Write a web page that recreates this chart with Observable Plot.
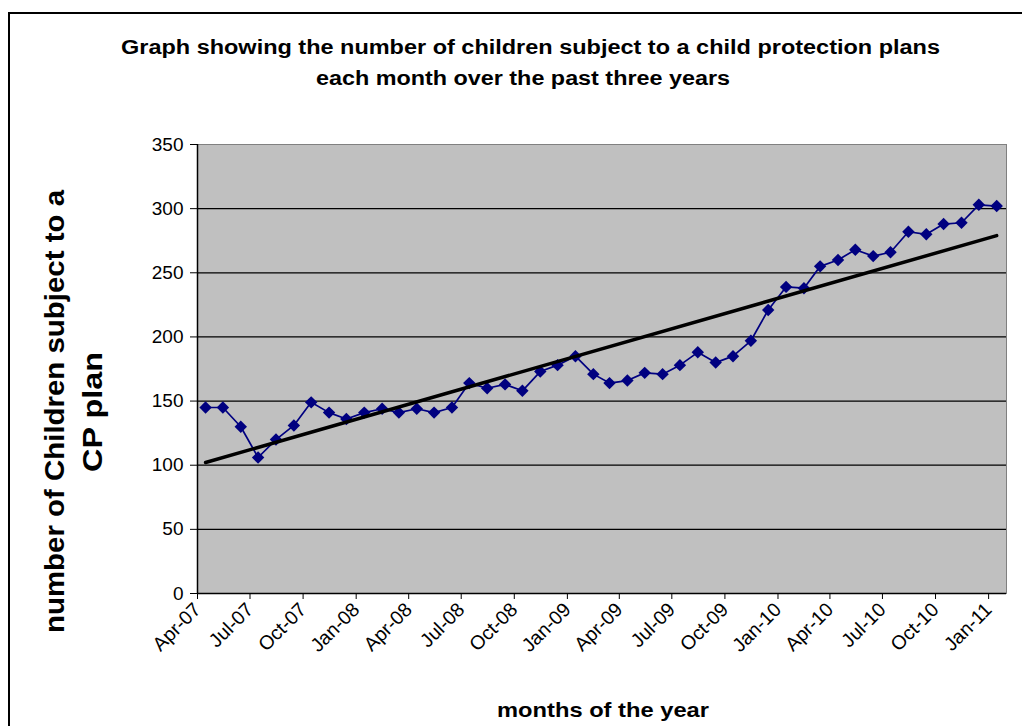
<!DOCTYPE html>
<html>
<head>
<meta charset="utf-8">
<script src="https://cdn.jsdelivr.net/npm/d3@7"></script>
<script src="https://cdn.jsdelivr.net/npm/@observablehq/plot@0.6"></script>
<style>
html, body { margin: 0; padding: 0; background: #fff; overflow: hidden; }
#wrap { position: relative; width: 1022px; height: 726px; overflow: hidden; background: #fff; }
#chart { position: absolute; left: 0; top: 0; }
#border { position: absolute; left: 8px; top: 12px; width: 1100px; height: 800px;
  border-left: 2px solid #000; border-top: 2px solid #000; pointer-events: none; }
</style>
</head>
<body>
<div id="wrap"><div id="chart"></div><div id="border"></div></div>
<script>
// ---- data ----
const monthDates = [
  "2007-04-15","2007-05-15","2007-06-15","2007-07-15","2007-08-15","2007-09-15",
  "2007-10-15","2007-11-15","2007-12-15","2008-01-15","2008-02-15","2008-03-15",
  "2008-04-15","2008-05-15","2008-06-15","2008-07-15","2008-08-15","2008-09-15",
  "2008-10-15","2008-11-15","2008-12-15","2009-01-15","2009-02-15","2009-03-15",
  "2009-04-15","2009-05-15","2009-06-15","2009-07-15","2009-08-15","2009-09-15",
  "2009-10-15","2009-11-15","2009-12-15","2010-01-15","2010-02-15","2010-03-15",
  "2010-04-15","2010-05-15","2010-06-15","2010-07-15","2010-08-15","2010-09-15",
  "2010-10-15","2010-11-15","2010-12-15","2011-01-15"
];
const childCounts = [
  145, 145, 130, 106, 120, 131,
  149, 141, 136, 141, 144, 141,
  144, 141, 145, 164, 160, 163,
  158, 173, 178, 185, 171, 164,
  166, 172, 171, 178, 188, 180,
  185, 197, 221, 239, 238, 255,
  260, 268, 263, 266, 282, 280,
  288, 289, 303, 302
];
const xTickDates = [
  "2007-04-01","2007-07-01","2007-10-01","2008-01-01","2008-04-01","2008-07-01",
  "2008-10-01","2009-01-01","2009-04-01","2009-07-01","2009-10-01","2010-01-01",
  "2010-04-01","2010-07-01","2010-10-01","2011-01-01"
];
const xTickLabels = [
  "Apr-07","Jul-07","Oct-07","Jan-08","Apr-08","Jul-08",
  "Oct-08","Jan-09","Apr-09","Jul-09","Oct-09","Jan-10",
  "Apr-10","Jul-10","Oct-10","Jan-11"
];
const xDomain = ["2007-04-01", "2011-02-01"];
const yTickValues = [0, 50, 100, 150, 200, 250, 300, 350];
const titleLines = [
  "Graph showing the number of children subject to a child protection plans",
  "each month over the past three years"
];
const yTitleLines = ["number of Children subject to a", "CP plan"];
const xTitle = "months of the year";

// ---- build ----
const FONT = "'Liberation Sans', Arial, Helvetica, sans-serif";
const data = monthDates.map((d, i) => ({date: new Date(d), count: childCounts[i]}));
const tickDates = xTickDates.map(d => new Date(d));
const labelByTime = new Map(tickDates.map((d, i) => [+d, xTickLabels[i]]));

const svg = Plot.plot({
  width: 1022,
  height: 726,
  marginLeft: 197,
  marginRight: 16,
  marginTop: 144,
  marginBottom: 133,
  style: {fontFamily: FONT, fontSize: "18px", background: "white", color: "black"},
  x: {type: "utc", domain: xDomain.map(d => new Date(d))},
  y: {domain: [0, 350]},
  marks: [
    Plot.frame({fill: "#C0C0C0", stroke: "#808080"}),
    Plot.gridY(yTickValues.filter(v => v > 0 && v < 350), {stroke: "black", strokeOpacity: 1, strokeWidth: 1.2}),
    Plot.axisY({ticks: yTickValues, tickSize: 7, tickPadding: 7, label: null, fontSize: 19, stroke: "black"}),
    Plot.axisX({ticks: tickDates, tickFormat: d => labelByTime.get(+d), tickRotate: -45,
      tickSize: 6, tickPadding: 7, label: null, fontSize: 19.5, stroke: "black"}),
    Plot.ruleX([new Date(xDomain[0])], {stroke: "black", strokeWidth: 1.5}),
    Plot.ruleY([0], {stroke: "black", strokeWidth: 1.5}),
    Plot.line(data, {x: "date", y: "count", stroke: "#000080", strokeWidth: 1.7}),
    Plot.dot(data, {x: "date", y: "count", symbol: "diamond2", r: 5.6, fill: "#000080", stroke: "none"}),
    Plot.linearRegressionY(data, {x: "date", y: "count", stroke: "black", strokeWidth: 3.5, ci: 0})
  ]
});
document.getElementById("chart").appendChild(svg);

// ---- text (titles) ----
const g = d3.select(svg).append("g")
  .attr("font-family", FONT).attr("font-weight", "bold").attr("fill", "black");
function addText(str, tx, ty, size, len, rot) {
  g.append("text")
    .attr("transform", `translate(${tx},${ty})` + (rot ? ` rotate(${rot})` : ""))
    .attr("text-anchor", "start")
    .attr("font-size", size)
    .attr("textLength", len)
    .attr("lengthAdjust", "spacingAndGlyphs")
    .text(str);
}
addText(titleLines[0], 121, 54, 20, 819, 0);
addText(titleLines[1], 316, 85, 20, 414, 0);
addText(xTitle, 497, 717, 21, 212, 0);
addText(yTitleLines[0], 64, 633, 27, 443, -90);
addText(yTitleLines[1], 102, 472, 27, 120, -90);
</script>
</body>
</html>
